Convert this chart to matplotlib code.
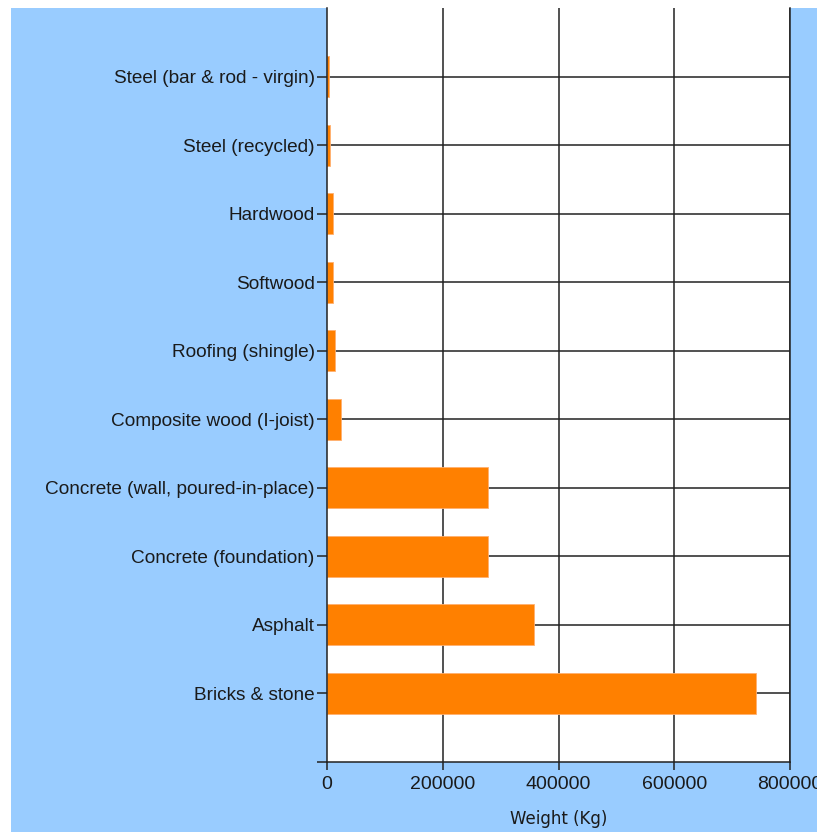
import matplotlib
matplotlib.use("Agg")
import matplotlib.pyplot as plt
from matplotlib.patches import Rectangle

categories = [
    "Bricks & stone",
    "Asphalt",
    "Concrete (foundation)",
    "Concrete (wall, poured-in-place)",
    "Composite wood (I-joist)",
    "Roofing (shingle)",
    "Softwood",
    "Hardwood",
    "Steel (recycled)",
    "Steel (bar & rod - virgin)",
]
weights = [742000, 358500, 278000, 278000, 24000, 14000, 11000, 11000, 6000, 3500]
x_ticks = [0, 200000, 400000, 600000, 800000]
x_label = "Weight (Kg)"

W, H = 817, 832
fig = plt.figure(figsize=(W / 100, H / 100), dpi=100, facecolor="white")

# blue background panel
fig.patches.append(Rectangle((11 / W, 0), 1 - 11 / W, (H - 8) / H,
                             transform=fig.transFigure, facecolor="#99ccff",
                             edgecolor="none", zorder=-10))

left, right, top, bottom = 327, 790, 8, 762
ax = fig.add_axes([left / W, (H - bottom) / H, (right - left) / W, (bottom - top) / H])
ax.set_zorder(5)
ax.set_facecolor("white")

lc = "#222222"
lw = 1.1
pos = list(range(1, len(categories) + 1))

# grid lines
for p in pos:
    ax.axhline(p, color=lc, lw=lw, zorder=1)
for xv in x_ticks[1:]:
    ax.axvline(xv, color=lc, lw=lw, zorder=1)

ax.barh(pos, weights, height=0.6, color="#ff8000", edgecolor="#ffb070",
        linewidth=0.6, zorder=2)

ax.set_xlim(0, 800000)
ax.set_ylim(0, len(categories) + 1)

ax.set_yticks([0] + pos)
ax.set_yticklabels([""] + categories, fontsize=13.7, family="Liberation Sans", color="#1a1a1a")
ax.set_xticks(x_ticks)
ax.set_xticklabels([str(v) for v in x_ticks], fontsize=14, family="Liberation Sans", color="#1a1a1a")
ax.tick_params(axis="y", length=7, width=lw, color=lc, pad=2)
ax.tick_params(axis="x", length=6, width=lw, color=lc, pad=4)

ax.set_xlabel(x_label, fontsize=12, family="DejaVu Sans", color="#1a1a1a", labelpad=12)

for s in ["top"]:
    ax.spines[s].set_visible(False)
for s in ["left", "bottom", "right"]:
    ax.spines[s].set_color(lc)
    ax.spines[s].set_linewidth(lw)

fig.savefig("out.png", dpi=100, facecolor="white")
